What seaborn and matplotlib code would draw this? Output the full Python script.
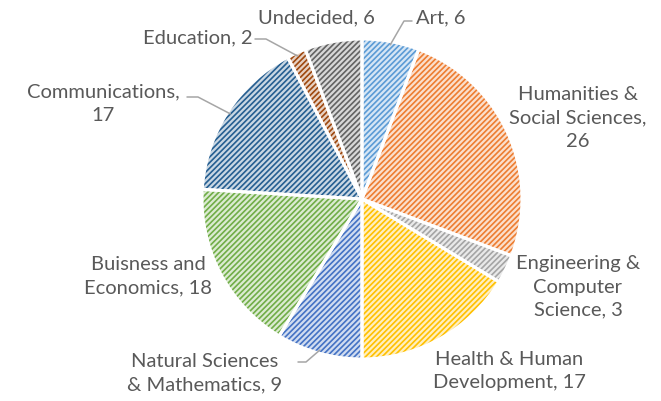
import numpy as np
import matplotlib
matplotlib.use("Agg")
import matplotlib.pyplot as plt
import matplotlib.colors as mcolors
import seaborn as sns

# data
majors = [
    "Art",
    "Humanities &\nSocial Sciences,\n",
    "Engineering &\nComputer\nScience, ",
    "Health & Human\nDevelopment, ",
    "Natural Sciences\n& Mathematics, ",
    "Buisness and\nEconomics, ",
    "Communications,\n",
    "Education",
    "Undecided",
]
counts = [6, 26, 3, 17, 9, 18, 17, 2, 6]
base_colors = ["#5B9BD5", "#ED7D31", "#A5A5A5", "#FFC000", "#4472C4",
               "#70AD47", "#255E91", "#9E480E", "#636363"]

sns.set_theme(style="white")
plt.rcParams["font.family"] = ["Lato", "DejaVu Sans"]
plt.rcParams["hatch.linewidth"] = 1.2

W, H, R = 661, 402, 160
CX, CY = 362, 200

fig = plt.figure(figsize=(W / 100, H / 100), dpi=100)
ax = fig.add_axes([0, 0, 1, 1])


def tint(c, amt=0.75):
    rgb = np.array(mcolors.to_rgb(c))
    return tuple(rgb + (1 - rgb) * amt)


# pass 1: light fill with coloured diagonal hatch
wedges, _ = ax.pie(counts, startangle=90, counterclock=False, radius=1,
                   colors=[tint(c) for c in base_colors],
                   wedgeprops=dict(linewidth=0))
for w, c in zip(wedges, base_colors):
    w.set_edgecolor(c)
    w.set_hatch("//////")
    w.set_linewidth(0)

# pass 2: white separators
ax.pie(counts, startangle=90, counterclock=False, radius=1,
       colors=["none"] * len(counts),
       wedgeprops=dict(linewidth=2.2, edgecolor="white", fill=False))

# pie() resets limits, so fix the frame afterwards
ax.set_xlim(-CX / R, (W - CX) / R)
ax.set_ylim(-(H - CY) / R, CY / R)
ax.set_aspect("equal")
ax.axis("off")


def px(x, y):
    return (x - CX) / R, (CY - y) / R


# label centres (pixels in the reference)
label_pos = [(441, 18), (578, 118), (578, 287), (509, 371), (205, 373),
             (148, 276), (103, 104), (198, 38), (316, 18)]
text_color = "#595959"
for name, n, (lx, ly) in zip(majors, counts, label_pos):
    txt = f"{name}{n}" if name.endswith((" ", "\n")) else f"{name}, {n}"
    ax.text(*px(lx, ly), txt, ha="center", va="center", fontsize=14.5,
            color=text_color, linespacing=1.45)

# leader lines: from label elbow to mid-angle of the wedge
angles = 90 - (np.cumsum(counts) - np.array(counts) / 2) / sum(counts) * 360
leaders = {0: [(412, 22), (404, 22)],
           6: [(187, 98), (198, 98)],
           7: [(255, 40), (266, 40)],
           4: [(298, 363), (306, 363)]}
for i, pts in leaders.items():
    a = np.deg2rad(angles[i])
    tip = (np.cos(a) * 0.98, np.sin(a) * 0.98)
    xs = [px(*p)[0] for p in pts] + [tip[0]]
    ys = [px(*p)[1] for p in pts] + [tip[1]]
    ax.plot(xs, ys, color="#A6A6A6", linewidth=1.1)

fig.savefig("out.png", dpi=100)
